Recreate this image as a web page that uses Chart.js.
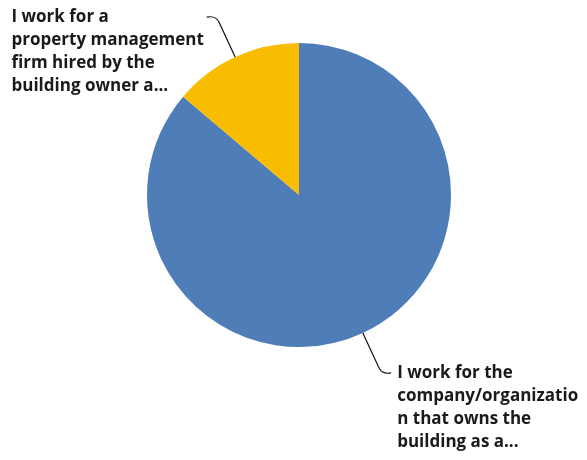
<!DOCTYPE html>
<html>
<head>
<meta charset="utf-8">
<script src="https://cdn.jsdelivr.net/npm/chart.js@4.4.1/dist/chart.umd.min.js"></script>
<style>
  html, body { margin: 0; padding: 0; background: #fff; }
  #wrap { width: 587px; height: 460px; position: relative; }
</style>
</head>
<body>
<div id="wrap"><canvas id="chart"></canvas></div>
<script>
// answer choices (as shown, already wrapped and truncated)
const categories = [
  "I work for the company/organization that owns the building as a...",
  "I work for a property management firm hired by the building owner a..."
];
const labelLines = [
  ["I work for the", "company/organizatio", "n that owns the", "building as a..."],
  ["I work for a", "property management", "firm hired by the", "building owner a..."]
];
const shares = [86.2, 13.8];
const colors = ["#4F7DB7", "#F8BD00"];

const FONT = "bold 17px 'Open Sans', sans-serif";
const LINE_H = 23;
const LEADER_LEN = 46;

// leader lines + wrapped labels drawn off each arc's midpoint
const outsideLabels = {
  id: "outsideLabels",
  afterDatasetsDraw(chart) {
    const c = chart.ctx;
    const meta = chart.getDatasetMeta(0);
    meta.data.forEach((arc, i) => {
      const p = arc.getProps(["x", "y", "startAngle", "endAngle", "outerRadius"], true);
      const mid = (p.startAngle + p.endAngle) / 2;
      const dx = Math.cos(mid), dy = Math.sin(mid);
      const ex = p.x + dx * p.outerRadius, ey = p.y + dy * p.outerRadius;
      const kx = p.x + dx * (p.outerRadius + LEADER_LEN);
      const ky = p.y + dy * (p.outerRadius + LEADER_LEN);
      const side = dx < 0 ? -1 : 1;
      const hx = kx + side * 9, hy = ky - dy * 2;

      c.save();
      c.strokeStyle = "#111";
      c.lineWidth = 1.2;
      c.beginPath();
      c.moveTo(ex, ey);
      c.lineTo(ex + dx * (LEADER_LEN - 8), ey + dy * (LEADER_LEN - 8));
      c.quadraticCurveTo(kx, ky, hx, hy);
      c.stroke();

      c.font = FONT;
      c.fillStyle = "#1a1a1a";
      c.textBaseline = "middle";
      c.textAlign = "left";
      const lines = labelLines[i];
      let tx;
      if (side > 0) {
        tx = hx + 6;
      } else {
        const w = Math.max(...lines.map(l => c.measureText(l).width));
        tx = hx - 3 - w;
      }
      lines.forEach((l, j) => {
        c.fillText(l, tx, hy + j * LINE_H);
      });
      c.restore();
    });
  }
};

new Chart(document.getElementById("chart"), {
  type: "pie",
  data: {
    labels: categories,
    datasets: [{
      data: shares,
      backgroundColor: colors,
      borderWidth: 0
    }]
  },
  options: {
    responsive: true,
    maintainAspectRatio: false,
    animation: false,
    layout: { padding: { top: 43, bottom: 113, left: 147, right: 136 } },
    plugins: {
      legend: { display: false },
      tooltip: { enabled: false }
    }
  },
  plugins: [outsideLabels]
});
</script>
</body>
</html>
